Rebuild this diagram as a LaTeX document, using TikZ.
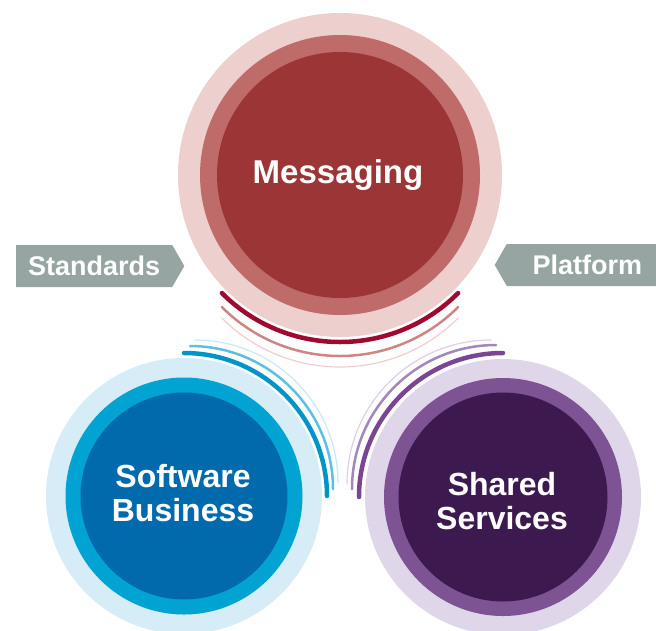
\documentclass[tikz,border=0pt]{standalone}
\usepackage{fontspec}
\setmainfont{Liberation Sans}
\usetikzlibrary{shapes.symbols}
\definecolor{msgOuter}{HTML}{EDCFCD}
\definecolor{msgMid}{HTML}{BF6B69}
\definecolor{msgIn}{HTML}{9B3536}
\definecolor{msgArcA}{HTML}{A00A30}
\definecolor{msgArcB}{HTML}{D08583}
\definecolor{msgArcC}{HTML}{EFCDCB}
\definecolor{swOuter}{HTML}{D6ECF6}
\definecolor{swMid}{HTML}{00A3D1}
\definecolor{swIn}{HTML}{006AAD}
\definecolor{swArcA}{HTML}{0095C8}
\definecolor{swArcB}{HTML}{5DC0E2}
\definecolor{swArcC}{HTML}{C8E8F5}
\definecolor{ssOuter}{HTML}{E0D6E9}
\definecolor{ssMid}{HTML}{7D5393}
\definecolor{ssIn}{HTML}{3C1A50}
\definecolor{ssArcA}{HTML}{7A4592}
\definecolor{ssArcB}{HTML}{A287BC}
\definecolor{ssArcC}{HTML}{DCD0E6}
\definecolor{bannerGray}{HTML}{97A5A2}
\begin{document}
\begin{tikzpicture}[x=1pt,y=1pt]
\tikzstyle{every node}+=[inner sep=0pt]
\tikzstyle{arcA}=[line width=4.5pt, line cap=round]
\tikzstyle{arcB}=[line width=2.5pt, line cap=round]
\tikzstyle{arcC}=[line width=1.2pt, line cap=round]
\tikzstyle{bigtext}=[text=white, align=center, font=\fontsize{32}{34}\selectfont\bfseries]
\tikzstyle{banner}=[signal, signal pointer angle=120, fill=bannerGray, text=white, minimum height=42pt, align=center, font=\fontsize{27}{30}\selectfont\bfseries]
\useasboundingbox (0,0) rectangle (656,-630);
\coordinate (m) at (340,-175);
\coordinate (sb) at (184,-496);
\coordinate (ss) at (503,-497);
\fill [msgOuter] (m) circle (162);
\fill [msgMid] (m) circle (140);
\fill [msgIn] (m) circle (123);
\draw [arcA, msgArcA] (m) ++(225:167) arc (225:315:167);
\draw [arcB, msgArcB] (m) ++(0,-14) ++(225:167) arc (225:315:167);
\draw [arcC, msgArcC] (m) ++(0,-25) ++(225:167) arc (225:315:167);
\fill [swOuter] (sb) circle (138);
\fill [swMid] (sb) circle (118.5);
\fill [swIn] (sb) circle (103.5);
\draw [arcA, swArcA] (sb) ++(0:143) arc (0:90:143);
\draw [arcB, swArcB] (sb) ++(6,7) ++(0:143) arc (0:90:143);
\draw [arcC, swArcC] (sb) ++(11,13) ++(0:143) arc (0:90:143);
\fill [ssOuter] (ss) circle (138);
\fill [ssMid] (ss) circle (119);
\fill [ssIn] (ss) circle (104.5);
\draw [arcA, ssArcA] (ss) ++(90:144) arc (90:180:144);
\draw [arcB, ssArcB] (ss) ++(-7,8) ++(90:144) arc (90:180:144);
\draw [arcC, ssArcC] (ss) ++(-12,13) ++(90:144) arc (90:180:144);
\node [bigtext, font=\fontsize{33}{36}\selectfont\bfseries, anchor=base] (msg) at (338,-183) {Messaging};
\node [bigtext] (swb) at (183,-493) {Software\\Business};
\node [bigtext] (shs) at (502,-501) {Shared\\Services};
\node [banner, signal to=east, text width=156pt, anchor=west] (std) at (16,-266) {Standards};
\node [banner, signal to=west, text width=161pt, anchor=east] (plf) at (668,-265) {Platform};
\end{tikzpicture}
\end{document}
